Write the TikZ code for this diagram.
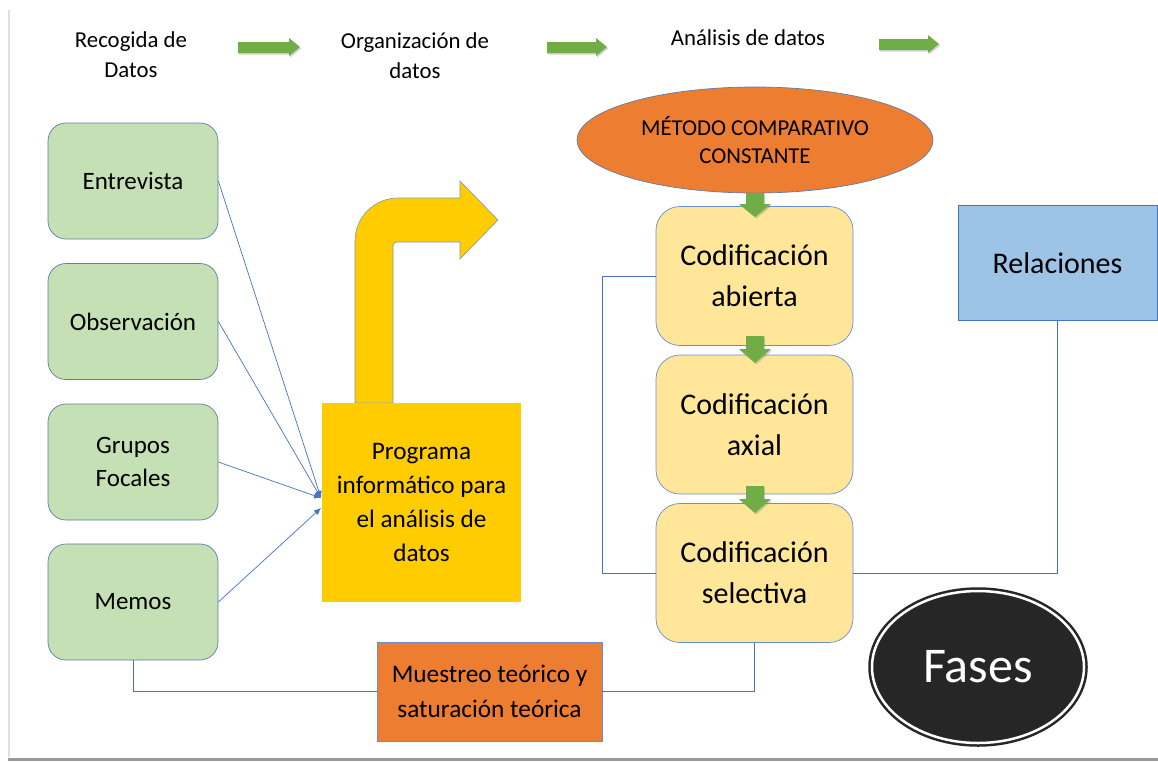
\documentclass[tikz,border=0pt]{standalone}
\usepackage{fontspec}
\setmainfont{Carlito}
\usetikzlibrary{shapes.geometric,arrows.meta,shadows}
\definecolor{gbox}{HTML}{C5E0B4}
\definecolor{ybox}{HTML}{FFE699}
\definecolor{gold}{HTML}{FFCC00}
\definecolor{orng}{HTML}{ED7D31}
\definecolor{lblue}{HTML}{9DC3E6}
\definecolor{cblue}{HTML}{4472C4}
\definecolor{bgray}{HTML}{5B7FA8}
\definecolor{grn}{HTML}{70AD47}
\definecolor{fasebg}{HTML}{262626}
\tikzset{
  fs/.style 2 args={font=\fontsize{#1}{#2}\selectfont},
  greenbox/.style={rectangle, rounded corners=18pt, fill=gbox, draw=bgray, line width=0.7pt,
     minimum width=170pt, minimum height=116pt, inner sep=0pt, align=center, fs={25}{33}},
  codbox/.style={rectangle, rounded corners=24pt, fill=ybox, draw=cblue!80, line width=0.7pt,
     minimum width=197pt, minimum height=139pt, inner sep=0pt, align=center, fs={30}{41}},
  toplabel/.style={align=center, inner sep=0pt, fs={22.8}{30}},
  conn/.style={draw=cblue, line width=0.7pt},
  connarrow/.style={conn, -{Latex[length=7pt,width=6pt]}},
  garrow/.style={fill=grn, drop shadow={shadow xshift=1.2pt, shadow yshift=-1.5pt, opacity=0.35}},
}
\begin{document}
\begin{tikzpicture}[x=1pt,y=-1pt]
\useasboundingbox (0,0) rectangle (1158,761);
\fill[white] (0,0) rectangle (1158,761);
% page frame
\draw[black!12, line width=2pt] (9,10) -- (9,757);
\draw[black!40, line width=3pt] (8,759) -- (1158,759);

% top labels
\node[toplabel] (rec) at (131,55) {Recogida de\\Datos};
\node[toplabel] (org) at (415,56) {Organización de\\datos};
\node[toplabel] (ana) at (748,38) {Análisis de datos};

% top green arrows
\fill[garrow] (238,42) -- (289,42) -- (289,38) -- (300,47) -- (289,56) -- (289,53) -- (238,53) -- cycle;
\fill[garrow] (547,42) -- (596,42) -- (596,38) -- (607,47) -- (596,56) -- (596,53) -- (547,53) -- cycle;
\fill[garrow] (879,39) -- (928,39) -- (928,35) -- (939,44) -- (928,53) -- (928,50) -- (879,50) -- cycle;

% left green boxes
\node[greenbox] (ent) at (133,181) {Entrevista};
\node[greenbox] (obs) at (133,321.5) {Observación};
\node[greenbox] (gru) at (133,462) {Grupos\\Focales};
\node[greenbox] (mem) at (133,602) {Memos};

% bent yellow arrow
\filldraw[fill=gold, draw=bgray!80, line width=0.6pt]
  (355,403) -- (355,241) arc[start angle=180, end angle=270, radius=43] -- (460,198)
  -- (460,181) -- (498,220) -- (460,259) -- (460,242) -- (397,242)
  arc[start angle=270, end angle=180, radius=4] -- (393,403) -- cycle;

% program box
\node[rectangle, fill=gold, minimum width=199pt, minimum height=199pt, inner sep=0pt,
      align=center, fs={25.2}{34}] (prog) at (421.5,502.5) {Programa\\informático para\\el análisis de\\datos};

% connectors into program box
\coordinate (hub1) at (321,498);
\coordinate (hub2) at (321,508);
\draw[connarrow] (ent.east) -- (hub1);
\draw[connarrow] (obs.east) -- (hub1);
\draw[connarrow] (gru.east) -- (hub1);
\draw[connarrow] (mem.east) -- (hub2);

% ellipse
\node[ellipse, fill=orng, draw=bgray, line width=0.7pt, minimum width=356pt, minimum height=106pt,
      inner sep=0pt, align=center, fs={22.7}{28}] (met) at (755,140) {MÉTODO COMPARATIVO\\CONSTANTE};

% coding boxes
\node[codbox] (abi) at (754.5,276) {Codificación\\abierta};
\node[codbox] (axi) at (754.5,424.5) {Codificación\\axial};
\node[codbox] (sel) at (754.5,573) {Codificación\\selectiva};

% relaciones
\node[rectangle, fill=lblue, draw=cblue, line width=0.7pt, minimum width=199pt, minimum height=115pt,
      inner sep=0pt, fs={30}{35}] (rel) at (1057.5,263) {Relaciones};

% muestreo
\node[rectangle, fill=orng, draw=cblue!80, line width=0.7pt, minimum width=225pt, minimum height=99pt,
      inner sep=0pt, align=center, fs={25.3}{35}] (mue) at (489.5,691.5) {Muestreo teórico y\\saturación teórica};

% fases
\node[ellipse, fill=fasebg, draw=fasebg, double=white, double distance=2.5pt, line width=2.5pt,
      minimum width=212pt, minimum height=152pt, inner sep=0pt, text=white, fs={50}{52}] (fas) at (978,667) {Fases};

% connectors
\draw[conn] (abi.west) -- ++(-53,0) |- (sel.west);
\draw[conn] (rel.south) |- (sel.east);
\draw[conn] (sel.south) |- (mue.east);
\draw[conn] (mem.south) |- (mue.west);

% down green arrows
\fill[garrow] (746,193) -- (764,193) -- (764,204) -- (771,204) -- (755,217) -- (739,204) -- (746,204) -- cycle;
\fill[garrow] (746,336) -- (764,336) -- (764,349) -- (771,349) -- (755,363) -- (739,349) -- (746,349) -- cycle;
\fill[garrow] (746,486) -- (764,486) -- (764,499) -- (771,499) -- (755,513) -- (739,499) -- (746,499) -- cycle;
\end{tikzpicture}
\end{document}
